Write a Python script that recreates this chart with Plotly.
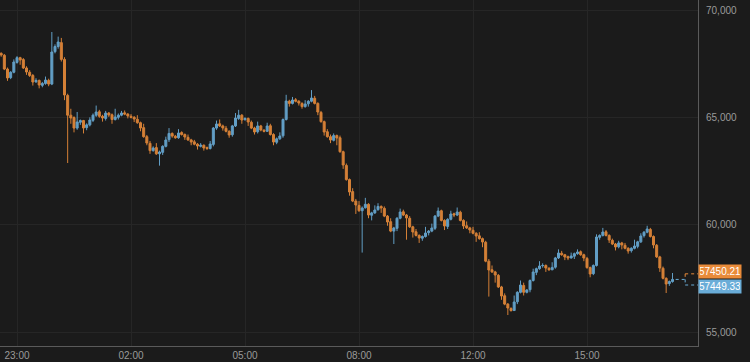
import plotly.graph_objects as go

# 5-minute candles (index 0..213)
opens = [68050, 67980, 67890, 67250, 66850, 67100, 67560, 67780, 67690, 67300, 67100, 66950, 66660, 66720, 66490, 66580, 66720, 66550, 68060, 68300,
         68480, 67700, 66020, 65100, 64990, 64500, 64770, 64850, 64520, 64650, 64860, 65100, 65260, 65050, 64950, 65200, 65120, 64900, 65000, 65100,
         65210, 65150, 65050, 65000, 64910, 64750, 64520, 64100, 63790, 63450, 63590, 63300, 63370, 63650, 63960, 64250, 64120, 64050, 64290, 64200,
         64070, 63950, 63860, 63750, 63650, 63700, 63590, 63550, 63740, 64500, 64700, 64600, 64490, 64350, 64190, 64600, 64950, 65100, 64890, 64950,
         64770, 64500, 64330, 64600, 64400, 64350, 64610, 64200, 63840, 64000, 64140, 64900, 65750, 65650, 65820, 65750, 65650, 65500, 65630, 65750,
         65890, 65650, 65230, 64800, 64330, 64100, 63930, 64150, 64050, 63400, 62760, 62100, 61540, 61100, 60900, 60650, 60790, 60950, 60440, 60550,
         60700, 60850, 60760, 60400, 60140, 59700, 59830, 60300, 60600, 60450, 60300, 59900, 59670, 59500, 59370, 59450, 59630, 59700, 59830, 60400,
         60650, 60200, 59920, 60250, 60510, 60450, 60580, 60200, 59950, 59850, 59740, 59600, 59480, 59350, 59180, 58300, 57900, 57800, 57640, 57100,
         56690, 56300, 56100, 56000, 56410, 56850, 57170, 56850, 56970, 57400, 57780, 57950, 58090, 58100, 57970, 57900, 58020, 58450, 58670, 58600,
         58510, 58450, 58530, 58650, 58740, 58600, 58430, 58000, 57720, 58100, 59410, 59500, 59670, 59500, 59270, 59100, 58970, 59150, 59040, 58900,
         58790, 58900, 58990, 59200, 59490, 59650, 59780, 59450, 59040, 58500, 57970, 57500, 57260, 57350]
highs = [68180, 68030, 67950, 67320, 67150, 67700, 67850, 67820, 67760, 67380, 67200, 67020, 66820, 66760, 66650, 66900, 66800, 68975, 68400, 68760,
         68700, 67800, 66100, 65400, 65050, 65250, 64900, 64880, 64720, 65000, 65180, 65550, 65350, 65120, 65300, 65250, 65180, 65400, 65180, 65300,
         65320, 65200, 65150, 65060, 65100, 64800, 64700, 64180, 63900, 63650, 63800, 63450, 63700, 64100, 64500, 64300, 64180, 64450, 64350, 64250,
         64200, 64000, 63950, 63800, 63800, 63740, 63640, 63900, 64550, 64850, 64900, 64660, 64600, 64400, 64650, 65200, 65350, 65150, 65000, 64990,
         64850, 64560, 64800, 64650, 64450, 64750, 64700, 64260, 64060, 64300, 64950, 66050, 65820, 65950, 65900, 65800, 65700, 65800, 65800, 66270,
         66000, 65700, 65300, 64850, 64450, 64200, 64250, 64200, 64150, 63450, 62850, 62150, 61700, 61200, 61100, 60850, 61250, 61000, 60600, 60900,
         61000, 60900, 60850, 60450, 60300, 59900, 60350, 60750, 60700, 60500, 60400, 59950, 59800, 59550, 59500, 59900, 59750, 60050, 60450, 60800,
         60700, 60250, 60300, 60650, 60560, 60800, 60650, 60250, 60150, 59900, 59900, 59650, 59650, 59400, 59250, 58400, 58100, 57850, 57700, 57150,
         56800, 56350, 56150, 56700, 56900, 57400, 57300, 57000, 57450, 57950, 58000, 58300, 58200, 58150, 58020, 58250, 58500, 58850, 58780, 58640,
         58560, 58700, 58700, 58850, 58800, 58650, 58500, 58050, 58150, 59550, 59550, 59850, 59750, 59550, 59350, 59150, 59250, 59200, 59150, 58950,
         58950, 59300, 59250, 59600, 59700, 59950, 59850, 59500, 59100, 58550, 58050, 57550, 57400, 57750]
lows = [67940, 67820, 67200, 66700, 66780, 67050, 67500, 67450, 67250, 66980, 66880, 66480, 66600, 66350, 66400, 66520, 66450, 66500, 67980, 68200,
        67600, 65800, 62873, 64700, 64300, 64420, 64650, 64250, 64400, 64580, 64780, 65020, 64980, 64800, 64850, 65020, 64700, 64850, 64900, 65050,
        65100, 64950, 64950, 64780, 64700, 64350, 64050, 63700, 63300, 63400, 63250, 62750, 63250, 63600, 63850, 64050, 64000, 64000, 64150, 63950,
        63900, 63700, 63700, 63500, 63600, 63450, 63480, 63500, 63650, 64420, 64550, 64380, 64300, 64050, 64100, 64550, 64880, 64700, 64850, 64600,
        64450, 64200, 64250, 64350, 64300, 64320, 64150, 63700, 63750, 63950, 64050, 64850, 65500, 65600, 65700, 65550, 65400, 65450, 65500, 65700,
        65600, 65100, 64750, 64150, 64050, 63800, 63880, 63700, 63350, 62600, 62050, 61350, 61050, 60500, 60600, 58700, 60750, 60300, 60200, 60500,
        60650, 60550, 60350, 59950, 59650, 59100, 59700, 60250, 60400, 59300, 59850, 59400, 59450, 59150, 59250, 59400, 59500, 59650, 59750, 60350,
        60150, 59750, 59800, 60200, 60350, 60400, 60150, 59800, 59800, 59600, 59550, 59200, 59300, 58950, 58250, 56650, 57750, 57300, 57050, 56500,
        56250, 55793, 55950, 55980, 56300, 56800, 56700, 56800, 56850, 57350, 57650, 57900, 58000, 57800, 57850, 57880, 57950, 58400, 58550, 58350,
        58350, 58420, 58400, 58600, 58550, 58300, 57950, 57550, 57650, 58050, 59300, 59450, 59450, 59150, 59050, 58800, 58900, 58850, 58850, 58650,
        58700, 58850, 58900, 59150, 59400, 59600, 59400, 58900, 58450, 57800, 57450, 56818, 57150, 57300]
closes = [67980, 67904, 67250, 66833, 67100, 67578, 67780, 67671, 67300, 67112, 66950, 66646, 66720, 66506, 66580, 66739, 66550, 68044, 68300, 68509,
          67700, 66041, 65100, 64969, 64500, 64783, 64850, 64504, 64650, 64876, 65100, 65249, 65050, 64969, 65200, 65109, 64900, 65016, 65100, 65202,
          65150, 65063, 65000, 64923, 64750, 64504, 64100, 63805, 63450, 63572, 63300, 63386, 63650, 63945, 64250, 64131, 64050, 64271, 64200, 64084,
          63950, 63851, 63750, 63665, 63700, 63572, 63550, 63758, 64500, 64690, 64600, 64504, 64350, 64177, 64600, 64969, 65100, 64876, 64950, 64783,
          64500, 64317, 64600, 64410, 64350, 64597, 64200, 63851, 64000, 64131, 64900, 65761, 65650, 65808, 65750, 65668, 65500, 65621, 65750, 65901,
          65650, 65249, 64800, 64317, 64100, 63945, 64150, 64038, 63400, 62780, 62100, 61522, 61100, 60917, 60650, 60777, 60950, 60451, 60550, 60684,
          60850, 60777, 60400, 60125, 59700, 59846, 60300, 60591, 60450, 60311, 59900, 59659, 59500, 59380, 59450, 59613, 59700, 59846, 60400, 60637,
          60200, 59939, 60250, 60497, 60450, 60591, 60200, 59939, 59850, 59752, 59600, 59473, 59350, 59193, 58300, 57889, 57800, 57656, 57100, 56678,
          56300, 56119, 56000, 56399, 56850, 57190, 56850, 56958, 57400, 57796, 57950, 58076, 58100, 57982, 57900, 58010, 58450, 58681, 58600, 58495,
          58450, 58541, 58650, 58728, 58600, 58448, 58000, 57703, 58100, 59426, 59500, 59659, 59500, 59287, 59100, 58961, 59150, 59054, 58900, 58774,
          58900, 59007, 59200, 59473, 59650, 59799, 59450, 59054, 58500, 57982, 57500, 57237, 57350, 57450.21]

tick_positions = [6, 42, 78, 114, 150, 186]
tick_labels = ["23:00", "02:00", "05:00", "08:00", "12:00", "15:00"]
y_ticks = [55000, 60000, 65000, 70000]
y_tick_labels = ["55,000", "60,000", "65,000", "70,000"]

last_values = ["57450.21", "57449.33"]

ORANGE = "#e98b3a"
BLUE = "#6aadd8"
BG = "#1b1b1b"
GRID = "#262626"
FONT = "Liberation Sans, Arial, sans-serif"

x = list(range(len(closes)))

fig = go.Figure()
fig.add_trace(go.Candlestick(
    x=x, open=opens, high=highs, low=lows, close=closes,
    increasing=dict(line=dict(color=BLUE, width=1), fillcolor=BLUE),
    decreasing=dict(line=dict(color=ORANGE, width=1), fillcolor=ORANGE),
    whiskerwidth=0, opacity=0.9, showlegend=False, hoverinfo="skip",
))

last_x = x[-1]
last_y = closes[-1]
x_end = 221.05
off = 260
dash = dict(width=1, dash="3px,3px")
fig.add_shape(type="line", xref="x", yref="y", x0=last_x + 1, x1=last_x + 4,
              y0=last_y, y1=last_y, line=dict(color=BLUE, **dash))
fig.add_shape(type="line", xref="x", yref="y", x0=last_x + 4, x1=last_x + 4,
              y0=last_y + off, y1=last_y, line=dict(color=ORANGE, **dash))
fig.add_shape(type="line", xref="x", yref="y", x0=last_x + 4, x1=last_x + 4,
              y0=last_y, y1=last_y - off, line=dict(color=BLUE, **dash))
fig.add_shape(type="line", xref="x", yref="y", x0=last_x + 4, x1=x_end,
              y0=last_y + off, y1=last_y + off, line=dict(color=ORANGE, **dash))
fig.add_shape(type="line", xref="x", yref="y", x0=last_x + 4, x1=x_end,
              y0=last_y - off, y1=last_y - off, line=dict(color=BLUE, **dash))

fig.add_annotation(xref="paper", yref="y", x=1.0, y=last_y, xanchor="left", yanchor="bottom",
                   text=last_values[0], showarrow=False, bgcolor=ORANGE,
                   font=dict(family=FONT, size=10, color="#ffffff"),
                   borderpad=1, width=40, align="center")
fig.add_annotation(xref="paper", yref="y", x=1.0, y=last_y, xanchor="left", yanchor="top",
                   text=last_values[1], showarrow=False, bgcolor=BLUE,
                   font=dict(family=FONT, size=10, color="#ffffff"),
                   borderpad=1, width=40, align="center")

fig.update_layout(
    width=750, height=362,
    margin=dict(l=0, r=52, t=0, b=16),
    paper_bgcolor=BG, plot_bgcolor=BG,
    boxgap=0.1,
    font=dict(family=FONT, size=10, color="#9a9a9a"),
    xaxis=dict(
        range=[0.63, x_end], rangeslider=dict(visible=False),
        tickmode="array", tickvals=tick_positions, ticktext=tick_labels,
        showgrid=True, gridcolor=GRID, gridwidth=1, zeroline=False,
        showline=True, linecolor="#5a5a5a", linewidth=1,
        ticks="", tickfont=dict(size=10, color="#9a9a9a"),
    ),
    yaxis=dict(
        side="right", range=[54349, 70466],
        tickmode="array", tickvals=y_ticks, ticktext=y_tick_labels,
        showgrid=True, gridcolor=GRID, gridwidth=1, zeroline=False,
        showline=True, linecolor="#5a5a5a", linewidth=1,
        ticks="", ticklabelstandoff=5, tickfont=dict(size=10, color="#9a9a9a"),
    ),
)

fig.write_html("out.html")
